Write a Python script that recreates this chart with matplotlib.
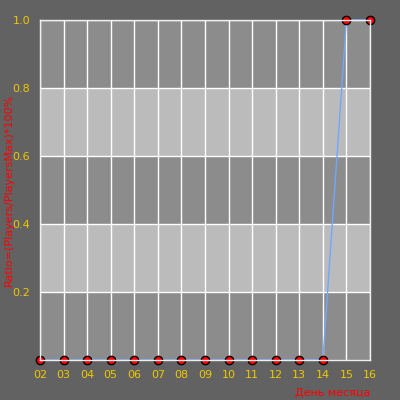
import matplotlib
matplotlib.use("Agg")
import matplotlib.pyplot as plt

# days of month and player ratio
days = [2, 3, 4, 5, 6, 7, 8, 9, 10, 11, 12, 13, 14, 15, 16]
ratio = [0, 0, 0, 0, 0, 0, 0, 0, 0, 0, 0, 0, 0, 1.0, 1.0]
day_labels = ["%02d" % d for d in days]
y_ticks = [0.2, 0.4, 0.6, 0.8, 1.0]

BG = "#626262"
DARK = "#8c8c8c"
LIGHT = "#bbbbbb"
YELLOW = "#f0c800"

fig = plt.figure(figsize=(4, 4), dpi=100, facecolor=BG)
ax = fig.add_axes([0.1, 0.1, 0.825, 0.85])
ax.set_facecolor(DARK)

# alternating horizontal bands
for i, lo in enumerate([0.0, 0.2, 0.4, 0.6, 0.8]):
    ax.axhspan(lo, lo + 0.2, color=DARK if i % 2 == 0 else LIGHT, zorder=0, lw=0)

ax.set_xlim(days[0], days[-1])
ax.set_ylim(0, 1.0)
ax.set_xticks(days)
ax.set_xticklabels(day_labels)
ax.set_yticks(y_ticks)
ax.set_yticklabels(["%.1f" % v for v in y_ticks])
ax.grid(True, color="white", lw=1)
ax.set_axisbelow(True)

ax.tick_params(length=0, colors=YELLOW, labelsize=8, pad=7)
for s in ax.spines.values():
    s.set_color("#eeeeee")
    s.set_linewidth(1)

ax.plot(days, ratio, color="#6fa8ff", lw=1, zorder=2,
        marker="o", markersize=6, markerfacecolor="red",
        markeredgecolor="black", markeredgewidth=1, clip_on=False)

ax.set_ylabel("Ratio=(Players/PlayersMax)*100%", color="red", fontsize=8)
ax.yaxis.set_label_coords(-0.08, 0.5)
ax.set_xlabel("День месяца", color="red", fontsize=8, loc="right")
ax.xaxis.set_label_coords(1.0, -0.083)

fig.savefig("out.png", dpi=100, facecolor=BG)
